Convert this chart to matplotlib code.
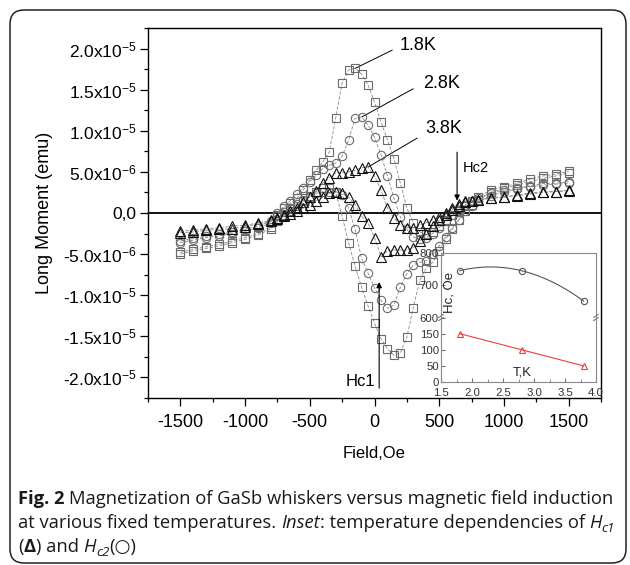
import numpy as np
import matplotlib.pyplot as plt
from matplotlib.patches import FancyBboxPatch
from matplotlib.transforms import IdentityTransform
from matplotlib.ticker import MultipleLocator, FixedLocator

plt.rcParams['font.family'] = ['Liberation Sans', 'DejaVu Sans']
plt.rcParams['mathtext.fontset'] = 'custom'
plt.rcParams['mathtext.rm'] = 'Liberation Sans'
plt.rcParams['mathtext.it'] = 'Liberation Sans:italic'
plt.rcParams['mathtext.bf'] = 'Liberation Sans:bold'

# field grid, Oe
field = list(range(-1500, -799, 100)) + list(range(-750, 751, 50)) + list(range(800, 1501, 100))

# long moment, 1e-6 emu ("up" = branch with the positive peak, "dn" = branch with the dip)
m18_up = [-5.0, -4.6, -4.3, -4.0, -3.6, -3.2, -2.7, -1.9,
          -0.2, 0.6, 1.2, 1.8, 2.8, 4.0, 5.2, 6.2, 7.4, 11.5, 15.8, 17.4, 17.6, 16.9, 15.6, 13.5,
          11.1, 8.9, 6.6, 3.6, 0.6, -1.2, -2.3, -2.6, -2.3, -1.6, -0.9, -0.3, 0.3, 0.9, 1.4,
          1.9, 2.8, 3.2, 3.6, 4.1, 4.5, 4.7, 5.1]
m18_dn = [-4.8, -4.4, -4.1, -3.8, -3.4, -3.0, -2.5, -1.7,
          -1.0, -0.3, 0.3, 0.9, 1.5, 2.1, 2.6, 3.0, 3.0, 2.5, -0.4, -3.6, -6.5, -9.0, -11.3, -13.4,
          -15.3, -16.5, -17.3, -17.0, -15.1, -11.5, -8.2, -6.7, -6.0, -4.6, -3.2, -2.0, -0.9, 0.2, 1.0,
          1.6, 2.5, 3.0, 3.4, 3.8, 4.2, 4.5, 4.9]
m28_up = [-3.6, -3.3, -3.0, -2.8, -2.5, -2.2, -1.8, -1.2,
          0.0, 0.8, 1.5, 2.3, 3.1, 3.8, 4.6, 5.4, 5.8, 6.1, 6.9, 8.9, 11.5, 11.7, 10.7, 9.2,
          7.1, 4.5, 1.8, -0.5, -2.0, -2.9, -3.2, -3.0, -2.5, -1.8, -1.0, -0.3, 0.4, 1.0, 1.4,
          1.8, 2.4, 2.8, 3.0, 3.3, 3.6, 3.6, 3.8]
m28_dn = [-3.4, -3.1, -2.8, -2.6, -2.3, -2.0, -1.6, -1.0,
          -0.4, 0.1, 0.6, 1.1, 1.6, 2.0, 2.4, 2.6, 2.6, 2.6, 2.2, 0.6, -2.0, -5.5, -7.3, -9.1,
          -10.6, -11.6, -11.2, -9.0, -7.4, -6.3, -6.0, -5.8, -5.0, -4.0, -2.9, -1.8, -0.8, 0.2, 0.9,
          1.4, 2.1, 2.6, 2.9, 3.2, 3.4, 3.5, 3.6]
m38_up = [-2.4, -2.3, -2.1, -2.0, -1.9, -1.7, -1.3, -1.0,
          -0.6, -0.2, 0.2, 0.6, 1.3, 2.0, 2.7, 3.6, 4.3, 4.9, 4.9, 5.0, 5.2, 5.5, 5.6, 4.5,
          2.8, 0.6, -0.6, -1.5, -1.8, -1.8, -1.5, -1.2, -0.8, -0.5, 0.0, 0.6, 1.1, 1.4, 1.5,
          1.6, 1.8, 1.9, 2.2, 2.4, 2.6, 2.6, 2.8]
m38_dn = [-2.2, -2.1, -1.9, -1.8, -1.6, -1.5, -1.2, -0.9,
          -0.7, -0.4, -0.1, 0.3, 0.6, 1.0, 1.5, 1.9, 2.4, 2.6, 2.4, 1.9, 1.0, -0.4, -1.2, -3.0,
          -5.3, -4.6, -4.5, -4.5, -4.5, -4.2, -3.4, -2.6, -1.6, -0.9, -0.2, 0.4, 0.9, 1.3, 1.5,
          1.6, 1.8, 2.0, 2.1, 2.3, 2.5, 2.6, 2.7]

ytick_vals = [-2.0e-5, -1.5e-5, -1.0e-5, -5.0e-6, 0.0, 5.0e-6, 1.0e-5, 1.5e-5, 2.0e-5]
ytick_text = [r'-$\mathregular{2.0x10^{-5}}$', r'-$\mathregular{1.5x10^{-5}}$',
              r'-$\mathregular{1.0x10^{-5}}$', r'-$\mathregular{5.0x10^{-6}}$', '0,0',
              r'$\mathregular{5.0x10^{-6}}$', r'$\mathregular{1.0x10^{-5}}$',
              r'$\mathregular{1.5x10^{-5}}$', r'$\mathregular{2.0x10^{-5}}$']

# inset: critical fields vs temperature
temp = [1.8, 2.8, 3.8]
hc2 = [745, 745, 651]
hc1 = [150, 100, 50]

fig = plt.figure(figsize=(6.3, 5.65), dpi=100)
W, H = 630, 565

frame = FancyBboxPatch((10, 2), 616, 553, boxstyle='round,pad=0,rounding_size=14',
                       transform=IdentityTransform(), fill=False, lw=1.1, ec='#222222')
fig.patches.append(frame)

ax = fig.add_axes([148 / W, 167 / H, 453 / W, 370 / H])
ax.set_xlim(-1750, 1750)
ax.set_ylim(-2.25e-5, 2.25e-5)
ax.axhline(0, color='black', lw=1.3, zorder=1)

series = [
    (m18_up, m18_dn, 's', '#6b6b6b'),
    (m28_up, m28_dn, 'o', '#6b6b6b'),
    (m38_up, m38_dn, '^', '#111111'),
]
for up, dn, mk, col in series:
    for br in (up, dn):
        ax.plot(field, np.array(br) * 1e-6, ls=(0, (4, 2)), lw=0.6, color='#8a8a8a',
                marker=mk, ms=6 if mk != '^' else 6.5, mfc='none', mec=col, mew=0.8, zorder=3)

ax.xaxis.set_major_locator(MultipleLocator(500))
ax.xaxis.set_minor_locator(MultipleLocator(250))
ax.yaxis.set_major_locator(FixedLocator(ytick_vals))
ax.yaxis.set_minor_locator(MultipleLocator(2.5e-6))
ax.set_yticklabels(ytick_text)
ax.set_xticklabels([str(int(v)) for v in ax.get_xticks()])
ax.tick_params(which='both', direction='out', top=False, right=False, width=0.9)
ax.tick_params(which='major', length=5.5)
ax.tick_params(which='minor', length=3)
ax.tick_params(axis='x', labelsize=13, pad=6)
ax.tick_params(axis='y', labelsize=12.5, pad=3)
for s in ax.spines.values():
    s.set_linewidth(1.0)

ax.set_ylabel('Long Moment (emu)', fontsize=13)
ax.yaxis.set_label_coords(-0.21, 0.5)
ax.set_xlabel('Field,Oe', fontsize=12)
ax.xaxis.set_label_coords(0.5, -0.13)

# temperature labels
ax.text(197, 20.4e-6, '1.8K', fontsize=13, va='center', ha='left')
ax.plot([136, -148], [19.8e-6, 17.6e-6], color='black', lw=0.7)
ax.text(374, 15.7e-6, '2.8K', fontsize=13, va='center', ha='left')
ax.plot([298, -95], [15.1e-6, 11.7e-6], color='black', lw=0.7)
ax.text(390, 10.3e-6, '3.8K', fontsize=13, va='center', ha='left')
ax.plot([329, -49], [9.1e-6, 5.6e-6], color='black', lw=0.7)

# Hc1 / Hc2 arrows
ax.annotate('', xy=(36, -8.4e-6), xytext=(36, -21.3e-6),
            arrowprops=dict(arrowstyle='-|>', lw=0.8, color='black', mutation_scale=8,
                            shrinkA=0, shrinkB=0))
ax.text(5, -20.5e-6, 'Hc1', fontsize=12, ha='right', va='center')
ax.annotate('', xy=(638, 1.5e-6), xytext=(638, 7.4e-6),
            arrowprops=dict(arrowstyle='-|>', lw=0.8, color='black', mutation_scale=8,
                            shrinkA=0, shrinkB=0))
ax.text(684, 5.5e-6, 'Hc2', fontsize=10.5, ha='left', va='center')

# inset
ins = fig.add_axes([441 / W, 183 / H, 155 / W, 129 / H])
ins.patch.set_alpha(0)
ins.set_xlim(1.5, 4.0)
ins.set_ylim(0, 400)
fit = np.polyfit(temp, hc2, 2)
tt = np.linspace(temp[0], temp[-1], 60)
ins.plot(tt, np.polyval(fit, tt) - 400, color='#555555', lw=0.8)
ins.plot(temp, np.array(hc2) - 400, 'o', mfc='none', mec='#555555', ms=4.5, mew=0.8)
ins.plot(temp, hc1, color='#f03c3c', lw=0.8, marker='^', mfc='none', mec='#f03c3c', ms=5, mew=0.8)
ins.xaxis.set_major_locator(MultipleLocator(0.5))
ins.xaxis.set_minor_locator(MultipleLocator(0.25))
ins.set_xticklabels(['%.1f' % v for v in ins.get_xticks()])
ins.set_yticks([0, 50, 100, 150, 200, 300, 400])
ins.set_yticklabels(['0', '50', '100', '150', '600', '700', '800'])
ins.tick_params(which='both', direction='in', top=False, right=False, color='#777777',
                labelsize=8.2, pad=1.5, labelcolor='#333333')
ins.tick_params(axis='x', pad=4)
ins.tick_params(which='major', length=3)
ins.tick_params(which='minor', length=2)
for s in ins.spines.values():
    s.set_color('#888888')
    s.set_linewidth(0.8)
for xb in (0, 1):
    for dy in (-0.012, 0.012):
        ins.plot([xb - 0.015, xb + 0.015], [0.5 + dy - 0.012, 0.5 + dy + 0.012],
                 transform=ins.transAxes, color='#666666', lw=0.7, clip_on=False)
ins.text(1.63, 279, 'Hc, Oe', rotation=90, fontsize=9.5, ha='center', va='center', color='#222222')
ins.text(2.81, 28, 'T,K', fontsize=9.5, ha='center', va='center', color='#222222')

# caption
renderer = fig.canvas.get_renderer()
cap = dict(family=['Open Sans', 'DejaVu Sans'], fontsize=13.2, color='#1a1a1a')


def width(t):
    return t.get_window_extent(renderer).width


probe_a = fig.text(0, 0, 'a a', **cap)
probe_b = fig.text(0, 0, 'aa', **cap)
space = width(probe_a) - width(probe_b)
probe_a.remove()
probe_b.remove()


def caption_line(parts, x, y):
    for txt, style, gap in parts:
        x += gap * space
        kw = dict(cap)
        yy = y
        if style == 'b':
            kw['weight'] = 'bold'
        elif style == 'i':
            kw['style'] = 'italic'
        elif style == 'sub':
            kw['style'] = 'italic'
            kw['fontsize'] = 9.5
            yy = y + 4
        t = fig.text(x / W, (H - yy) / H, txt, va='baseline', ha='left', **kw)
        x += width(t)


caption_line([('Fig. 2', 'b', 0), ('Magnetization of GaSb whiskers versus magnetic field induction', 'n', 1)],
             18, 504)
caption_line([('at various fixed temperatures.', 'n', 0), ('Inset', 'i', 1),
              (': temperature dependencies of', 'n', 0), ('H', 'i', 1), ('c1', 'sub', 0)],
             18, 528)
caption_line([('(', 'n', 0), ('\u0394', 'b', 0), (') and', 'n', 0), ('H', 'i', 1), ('c2', 'sub', 0),
              ('(\u25cb)', 'n', 0)],
             18, 552)

fig.savefig('out.png', dpi=100)
